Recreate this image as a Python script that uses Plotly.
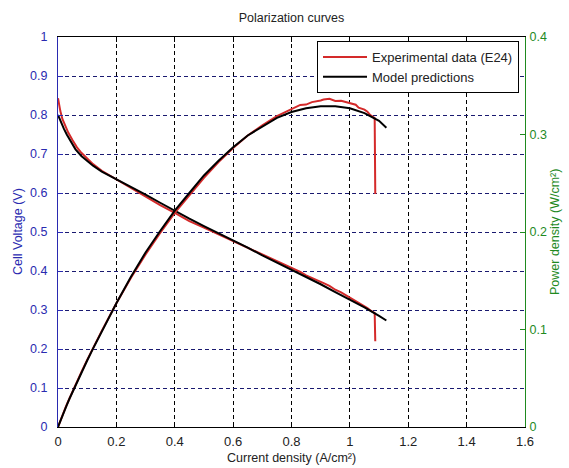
import plotly.graph_objects as go

# Experimental data (E24)
exp_current = [0, 0.003, 0.008, 0.015, 0.025, 0.035, 0.05, 0.065, 0.08, 0.10, 0.12, 0.15,
               0.20, 0.25, 0.30, 0.35, 0.40, 0.45, 0.50, 0.55, 0.60, 0.65, 0.70, 0.75,
               0.80, 0.83, 0.85, 0.87, 0.90, 0.91, 0.93, 0.95, 0.97, 1.00, 1.02, 1.03,
               1.05, 1.06, 1.07, 1.085, 1.087]
exp_voltage = [0.843, 0.83, 0.81, 0.79, 0.77, 0.755, 0.735, 0.717, 0.703, 0.688, 0.674, 0.657,
               0.635, 0.612, 0.590, 0.569, 0.549, 0.528, 0.511, 0.494, 0.477, 0.460, 0.442, 0.425,
               0.407, 0.398, 0.389, 0.383, 0.372, 0.369, 0.362, 0.352, 0.345, 0.332, 0.324, 0.318,
               0.310, 0.305, 0.299, 0.292, 0.22]
exp_power = [0, 0.0025, 0.0065, 0.0119, 0.0193, 0.0264, 0.0368, 0.0466, 0.0562, 0.0688, 0.0809, 0.0986,
             0.127, 0.153, 0.177, 0.199, 0.2196, 0.2376, 0.2555, 0.2717, 0.2862, 0.299, 0.3094, 0.3188,
             0.3256, 0.3303, 0.3307, 0.3332, 0.3348, 0.3358, 0.3367, 0.3344, 0.3347, 0.332, 0.3305, 0.3275,
             0.3255, 0.3233, 0.3199, 0.3168, 0.239]

# Model predictions
mod_current = [0, 0.005, 0.01, 0.02, 0.03, 0.04, 0.05, 0.06, 0.08, 0.10, 0.12, 0.15,
               0.20, 0.25, 0.30, 0.35, 0.40, 0.45, 0.50, 0.55, 0.60, 0.65, 0.70, 0.75,
               0.80, 0.85, 0.90, 0.95, 1.00, 1.05, 1.10, 1.125]
mod_voltage = [0.80, 0.79, 0.78, 0.765, 0.750, 0.737, 0.724, 0.712, 0.695, 0.682, 0.670, 0.655,
               0.636, 0.615, 0.596, 0.575, 0.554, 0.534, 0.515, 0.497, 0.478, 0.460, 0.440, 0.422,
               0.404, 0.385, 0.366, 0.346, 0.327, 0.307, 0.285, 0.273]
mod_power = [0, 0.004, 0.0078, 0.0153, 0.0225, 0.0295, 0.0362, 0.0427, 0.0556, 0.0682, 0.0804, 0.0983,
             0.127, 0.154, 0.179, 0.201, 0.222, 0.240, 0.258, 0.273, 0.287, 0.299, 0.308, 0.317,
             0.323, 0.327, 0.329, 0.329, 0.327, 0.322, 0.314, 0.307]

x_ticks = [0, 0.2, 0.4, 0.6, 0.8, 1, 1.2, 1.4, 1.6]
y_ticks = [0, 0.1, 0.2, 0.3, 0.4, 0.5, 0.6, 0.7, 0.8, 0.9, 1]
y2_ticks = [0, 0.1, 0.2, 0.3, 0.4]

RED = "#d42a2a"
BLACK = "#000000"
BLUE = "#2a2ab0"
GREEN = "#1f8a1f"
TXT = "#222222"
FONT = "Liberation Sans, Arial, sans-serif"

fig = go.Figure()
fig.add_trace(go.Scatter(x=exp_current, y=exp_voltage, mode="lines", name="Experimental data (E24)",
                         line=dict(color=RED, width=2)))
fig.add_trace(go.Scatter(x=exp_current, y=exp_power, mode="lines", yaxis="y2", showlegend=False,
                         line=dict(color=RED, width=2)))
fig.add_trace(go.Scatter(x=mod_current, y=mod_voltage, mode="lines", name="Model predictions",
                         line=dict(color=BLACK, width=2)))
fig.add_trace(go.Scatter(x=mod_current, y=mod_power, mode="lines", yaxis="y2", showlegend=False,
                         line=dict(color=BLACK, width=2)))

L, R, T, B = 58, 44, 37, 41
W, H = 569, 468
pw, ph = W - L - R, H - T - B

fig.update_layout(
    width=W, height=H,
    margin=dict(l=L, r=R, t=T, b=B, autoexpand=False),
    paper_bgcolor="white", plot_bgcolor="white",
    font=dict(family=FONT, size=13, color=TXT),
    title=dict(text="Polarization curves", x=(L + pw / 2) / W, xanchor="center",
               y=1 - 18 / H, yanchor="middle", font=dict(size=12.5, color=TXT)),
    xaxis=dict(range=[0, 1.6], tickvals=x_ticks, ticks="inside", ticklen=5, tickcolor="#000",
               showline=True, linecolor="#000", linewidth=1, mirror="ticks",
               showgrid=True, gridcolor="#000", griddash="4px,3px", gridwidth=1,
               zeroline=False, tickfont=dict(size=13, color=TXT), ticklabelstandoff=2,
               automargin=False),
    yaxis=dict(range=[0, 1], tickvals=y_ticks, ticks="inside", ticklen=5, tickcolor=BLUE,
               showline=True, linecolor=BLUE, linewidth=1,
               showgrid=True, gridcolor="#1a1a70", griddash="4px,3px", gridwidth=1,
               zeroline=False, tickfont=dict(size=12.5, color=BLUE), ticklabelstandoff=7,
               automargin=False),
    yaxis2=dict(range=[0, 0.4], tickvals=y2_ticks, overlaying="y", side="right",
                ticks="inside", ticklen=5, tickcolor=GREEN,
                showline=True, linecolor=GREEN, linewidth=1, showgrid=False, zeroline=False,
                tickfont=dict(size=12.5, color=GREEN), ticklabelstandoff=1, automargin=False),
    legend=dict(x=(519 - L) / pw, y=1 - (41 - T) / ph, xanchor="right", yanchor="top",
                bgcolor="white", bordercolor="#000", borderwidth=1,
                font=dict(size=13, color=TXT), tracegroupgap=0, itemwidth=44),
    showlegend=True,
    annotations=[
        dict(text="Cell Voltage (V)", xref="paper", yref="paper", x=0, y=0.5,
             xshift=-(L - 18), textangle=-90, showarrow=False,
             font=dict(size=12.5, color=BLUE), xanchor="center", yanchor="middle"),
        dict(text="Power density (W/cm²)", xref="paper", yref="paper", x=1, y=0.5,
             xshift=(555 - (W - R)), textangle=-90, showarrow=False,
             font=dict(size=12.5, color=GREEN), xanchor="center", yanchor="middle"),
        dict(text="Current density (A/cm²)", xref="paper", yref="paper", x=0.5, y=0,
             yshift=-(458 - (H - B)), showarrow=False,
             font=dict(size=12.5, color=TXT), xanchor="center", yanchor="middle"),
    ],
)

fig.write_html("out.html", config={"displayModeBar": False},
               post_script="document.body.style.margin='0';")
